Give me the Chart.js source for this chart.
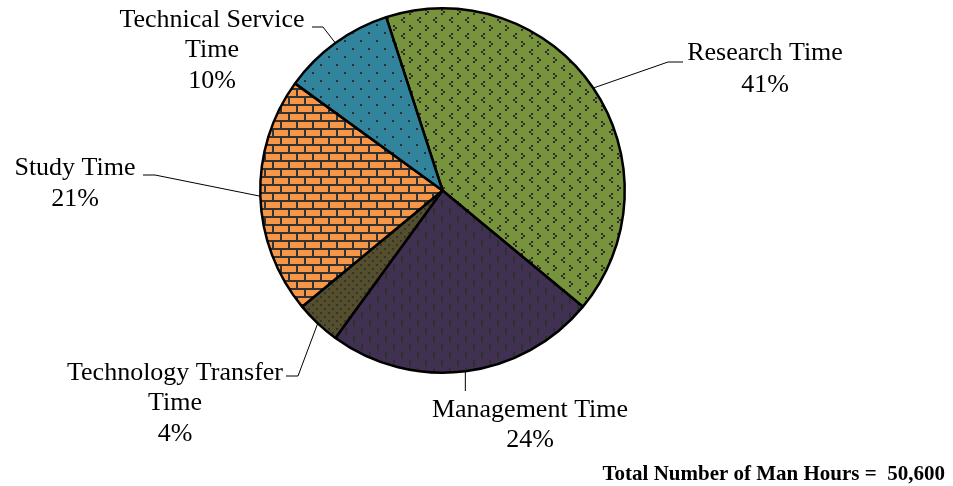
<!DOCTYPE html>
<html>
<head>
<meta charset="utf-8">
<script src="https://cdn.jsdelivr.net/npm/chart.js@4"></script>
<style>
  html, body { margin: 0; padding: 0; background: #fff; }
  #wrap { width: 953px; height: 486px; }
</style>
</head>
<body>
<div id="wrap"><canvas id="pieChart" width="953" height="486"></canvas></div>
<script>
// --- Dati del grafico ---
const categories = ['Research Time', 'Management Time', 'Technology Transfer Time', 'Study Time', 'Technical Service Time'];
const labelLines = [['Research Time'], ['Management Time'], ['Technology Transfer', 'Time'], ['Study Time'], ['Technical Service', 'Time']];
const shares = [41, 24, 4, 21, 10];
const totalHours = '50,600';

// --- Pattern di riempimento ---
function makePattern(bg, ink, draw) {
  const c = document.createElement('canvas');
  c.width = 16; c.height = 16;
  const x = c.getContext('2d');
  x.fillStyle = bg;
  x.fillRect(0, 0, 16, 16);
  x.fillStyle = ink;
  draw(x);
  return x.createPattern(c, 'repeat');
}

const fills = [
  // verde con piccoli motivi a freccia
  makePattern('#77933C', '#2e2e2e', x => {
    x.fillRect(3, 1, 2, 2); x.fillRect(1, 3, 2, 2); x.fillRect(3, 5, 2, 2);
    x.fillRect(9, 9, 2, 2); x.fillRect(11, 11, 2, 2); x.fillRect(9, 13, 2, 2);
  }),
  // viola con trattini verticali
  makePattern('#403152', '#2f2f2f', x => {
    x.fillRect(1, 0, 2, 7); x.fillRect(9, 8, 2, 7);
  }),
  // oliva con puntini
  makePattern('#544E2C', '#333333', x => {
    for (let i = 0; i < 16; i += 8) for (let j = 0; j < 16; j += 8) {
      x.fillRect(i, j, 2, 2); x.fillRect(i + 4, j + 4, 2, 2);
    }
  }),
  // arancio a mattoni
  makePattern('#F79646', '#333333', x => {
    x.fillRect(0, 0, 16, 2); x.fillRect(0, 8, 16, 2);
    x.fillRect(0, 2, 2, 6); x.fillRect(8, 10, 2, 6);
  }),
  // blu-verde con puntini radi
  makePattern('#31849B', '#2e2e2e', x => {
    x.fillRect(0, 0, 2, 2); x.fillRect(8, 8, 2, 2);
  })
];

// --- Posizione delle etichette (gomito, fine linea, centro testo, righe) ---
// elbow null = linea verticale dal bordo della fetta
const labelLayout = [
  { elbow: [668, 62], end: [683, 62], cx: 765, ys: [53, 85] },
  { elbow: null, endY: 391, cx: 530, ys: [410, 440] },
  { elbow: [298, 376], end: [286, 376], cx: 175, ys: [373, 403, 434] },
  { elbow: [155, 175], end: [143, 175], cx: 75, ys: [168, 199] },
  { elbow: [323, 27], end: [312, 27], cx: 212, ys: [20, 50, 81] }
];

const labelPlugin = {
  id: 'pieLabels',
  afterDraw(chart) {
    const ctx = chart.ctx;
    const meta = chart.getDatasetMeta(0);
    const total = shares.reduce((a, b) => a + b, 0);
    ctx.save();
    meta.data.forEach((arc, i) => {
      const lay = labelLayout[i];
      const mid = (arc.startAngle + arc.endAngle) / 2;
      const px = arc.x + Math.cos(mid) * arc.outerRadius;
      const py = arc.y + Math.sin(mid) * arc.outerRadius;
      ctx.strokeStyle = '#000';
      ctx.lineWidth = 1;
      ctx.beginPath();
      ctx.moveTo(px, py);
      if (lay.elbow) {
        ctx.lineTo(lay.elbow[0], lay.elbow[1]);
        ctx.lineTo(lay.end[0], lay.end[1]);
      } else {
        ctx.lineTo(px, lay.endY);
      }
      ctx.stroke();

      ctx.fillStyle = '#000';
      ctx.font = '26px "Liberation Serif", "Times New Roman", serif';
      ctx.textAlign = 'center';
      ctx.textBaseline = 'middle';
      const lines = labelLines[i].concat([Math.round(shares[i] / total * 100) + '%']);
      lines.forEach((t, k) => ctx.fillText(t, lay.cx, lay.ys[k]));
    });
    ctx.font = 'bold 21px "Liberation Serif", "Times New Roman", serif';
    ctx.textAlign = 'right';
    ctx.textBaseline = 'alphabetic';
    ctx.fillText('Total Number of Man Hours =  ' + totalHours, 945, 480);
    ctx.restore();
  }
};

new Chart(document.getElementById('pieChart'), {
  type: 'pie',
  data: {
    labels: categories,
    datasets: [{
      data: shares,
      backgroundColor: fills,
      borderColor: '#000',
      borderWidth: 2.5,
      hoverOffset: 0
    }]
  },
  options: {
    responsive: false,
    animation: false,
    rotation: -18,
    events: [],
    layout: { padding: { left: 259, right: 327, top: 7, bottom: 112 } },
    plugins: { legend: { display: false }, tooltip: { enabled: false } }
  },
  plugins: [labelPlugin]
});
</script>
</body>
</html>
